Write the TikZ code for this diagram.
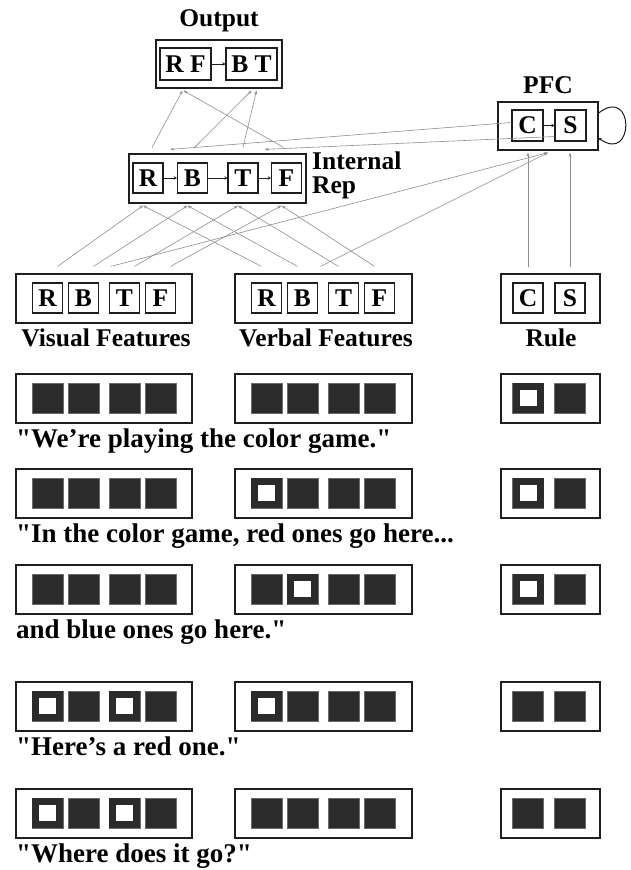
\documentclass[tikz,border=0pt]{standalone}
\usepackage{fontspec}
\setmainfont{Liberation Serif}[Ligatures=TeXOff]
\usetikzlibrary{arrows.meta,calc}
\definecolor{Ink}{HTML}{1E1E1E}
\definecolor{Unit}{HTML}{2B2B2B}
\definecolor{Wire}{HTML}{8E8E8E}
\newcommand{\txtlbl}{\bfseries\fontsize{25.5}{24}\selectfont}
\newcommand{\txtsay}{\bfseries\fontsize{27}{30}\selectfont}
\tikzset{
  bank/.style={draw=Ink, line width=1.3pt, inner sep=0pt, minimum height=48pt},
  cell/.style={draw=Ink, line width=1.2pt, inner sep=0pt, minimum width=30pt,
    minimum height=30pt, font=\txtlbl},
  unitoff/.style={fill=Unit, draw=Unit!70, line width=.5pt, inner sep=0pt,
    minimum width=31pt, minimum height=30pt},
  uniton/.style={fill=white, draw=Unit, line width=7pt, inner sep=0pt,
    minimum width=24pt, minimum height=23pt},
  layername/.style={font=\txtlbl, inner sep=0pt},
  saying/.style={font=\txtsay, inner sep=0pt, anchor=base west},
  link/.style={draw=Wire, line width=.6pt, -{Stealth[length=4pt,width=3pt]}},
  inh/.style={draw=Ink, line width=.9pt, -{Stealth[length=3pt,width=3.5pt]}},
}

\begin{document}
\begin{tikzpicture}[x=1pt,y=-1pt]
  \fill[white] (0,0) rectangle (630,870);
  \useasboundingbox (0,0) rectangle (630,870);

  % output layer
  \node[layername, anchor=base] (outname) at (219,26) {Output};
  \node[bank, minimum width=126pt] (out) at (219,64) {};
  \node[cell, minimum width=51pt, minimum height=32pt] (outRF) at (185.5,64) {R F};
  \node[cell, minimum width=51pt, minimum height=32pt] (outBT) at (251.5,64) {B T};
  \draw[inh] (outRF) -- (outBT);

  % internal representation
  \node[bank, minimum width=177pt, minimum height=49pt] (int) at (217.5,178.5) {};
  \foreach \f/\xx in {R/148,B/192.5,T/243,F/286.5}
    \node[cell] (int\f) at (\xx,178) {\f};
  \draw[inh] (intR) -- (intB);
  \draw[inh] (intB) -- (intT);
  \draw[inh] (intT) -- (intF);
  \node[layername, anchor=north west, align=left] (intname) at (312,152) {Internal\\Rep};

  % prefrontal cortex
  \node[layername, anchor=base] (pfcname) at (548,93) {PFC};
  \node[bank, minimum width=100pt] (pfc) at (548,126) {};
  \node[cell, minimum width=31pt, minimum height=31pt] (pfcC) at (527.5,125.5) {C};
  \node[cell, minimum width=31pt, minimum height=31pt] (pfcS) at (570.5,125.5) {S};
  \draw[inh] (pfcC) -- (pfcS);
  \draw[draw=Ink, line width=1pt, -{Stealth[length=3pt,width=3pt]}]
    ([yshift=13pt]pfc.east) .. controls +(36,-28) and +(36,26) .. ([yshift=-12pt]pfc.east);

  % input layers
  \node[bank, minimum width=176pt, minimum height=49pt] (vis) at (104,298.5) {};
  \node[bank, minimum width=177pt, minimum height=49pt] (verb) at (323.5,298.5) {};
  \node[bank, minimum width=99pt, minimum height=49pt] (rule) at (550.5,298.5) {};
  \foreach \f/\dx in {R/31.5,B/67.5,T/108.5,F/144.5} {
    \node[cell] (vis\f) at (16+\dx,298) {\f};
    \node[cell] (verb\f) at (235+\dx,298) {\f};
  }
  \node[cell] (ruleC) at (528,298) {C};
  \node[cell] (ruleS) at (570,298) {S};
  \node[layername, anchor=base] (visname) at (106,346) {Visual Features};
  \node[layername, anchor=base] (verbname) at (326,346) {Verbal Features};
  \node[layername, anchor=base] (rulename) at (551,346) {Rule};

  % connections
  \foreach \f in {R,B,T,F} {
    \draw[link] ([xshift=10pt,yshift=16pt]vis\f.north) -- ([xshift=-5pt,yshift=-12pt]int\f.south);
    \draw[link] ([xshift=-5pt,yshift=16pt]verb\f.north) -- ([xshift=-5pt,yshift=-12pt]int\f.south);
  }
  \draw[link] ([xshift=7pt,yshift=7pt]vis.north) -- ([yshift=-2pt]pfc.south);
  \draw[link] ([xshift=-3pt,yshift=7pt]verb.north) -- ([yshift=-2pt]pfc.south);
  \foreach \f in {C,S}
    \draw[link, line width=.9pt, shorten >=2pt] ([yshift=15pt]rule\f.north) -- (rule\f.north |- pfc.south);
  \draw[link] ([yshift=3pt]pfcC.west) -- ($(intR.north)!.5!(intB.north)+(0,-13)$);
  \draw[link] ([yshift=-11pt]pfcS.west) -- ($(intT.north)!.5!(intF.north)+(0,-13)$);
  \draw[link] ([xshift=4pt,yshift=15pt]intR.north) -- ([xshift=-3pt,yshift=-10pt]outRF.south);
  \draw[link] ([xshift=-3pt,yshift=15pt]intF.north) -- ([xshift=-2pt,yshift=-10pt]outRF.south);
  \draw[link] ([xshift=2pt,yshift=15pt]intB.north) -- ([yshift=-10pt]outBT.south);
  \draw[link] ([yshift=15pt]intT.north) -- ([xshift=5pt,yshift=-10pt]outBT.south);

  % event sequence
  \foreach \yy/\txt [count=\r] in {374/{"We’re playing the color game."},
      469/{"In the color game, red ones go here...},
      565/{and blue ones go here."},
      682/{"Here’s a red one."},
      789/{"Where does it go?"}} {
    \node[bank, minimum width=176pt, minimum height=49pt] (vis\r) at (104,\yy+24.5) {};
    \node[bank, minimum width=177pt, minimum height=49pt] (verb\r) at (323.5,\yy+24.5) {};
    \node[bank, minimum width=99pt, minimum height=49pt] (rule\r) at (550.5,\yy+24.5) {};
    \foreach \dx [count=\k] in {31.5,67.5,108.5,144.5} {
      \node[unitoff] (vis\r-\k) at (16+\dx,\yy+24) {};
      \node[unitoff] (verb\r-\k) at (235+\dx,\yy+24) {};
    }
    \node[unitoff] (rule\r-1) at (528,\yy+24) {};
    \node[unitoff] (rule\r-2) at (570,\yy+24) {};
    \node[saying] (say\r) at (16,\yy+73) {\txt};
  }
  \foreach \u in {rule1-1,rule2-1,rule3-1,verb2-1,verb3-2,verb4-1,vis4-1,vis4-3,vis5-1,vis5-3}
    \node[uniton] at (\u) {};
\end{tikzpicture}
\end{document}
